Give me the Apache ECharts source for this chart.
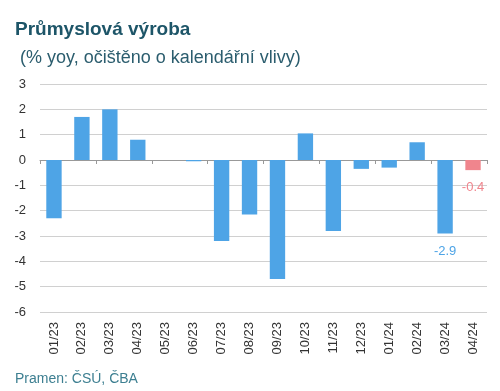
<!DOCTYPE html>
<html>
<head>
<meta charset="utf-8">
<script src="https://cdn.jsdelivr.net/npm/echarts@6/dist/echarts.min.js"></script>
<style>
html,body{margin:0;padding:0;background:#fff;}
#c{width:500px;height:391px;}
</style>
</head>
<body>
<div id="c"></div>
<script>
var categories = ["01/23","02/23","03/23","04/23","05/23","06/23","07/23","08/23","09/23","10/23","11/23","12/23","01/24","02/24","03/24","04/24"];
var values = [-2.3, 1.7, 2.0, 0.8, 0.0, -0.05, -3.2, -2.15, -4.7, 1.05, -2.8, -0.35, -0.3, 0.7, -2.9, -0.4];
var labelledIndex = [14, 15];
var yTicks = [-6, -5, -4, -3, -2, -1, 0, 1, 2, 3];

var blue = '#4ea4e6';
var red = '#f0858d';
var font = 'Liberation Sans, Arial, sans-serif';

var data = values.map(function (v, i) {
  var last = i === values.length - 1;
  var col = last ? red : blue;
  var item = { value: v, itemStyle: { color: col } };
  if (labelledIndex.indexOf(i) >= 0) {
    item.label = {
      show: true, position: 'bottom', distance: 11,
      color: col, fontSize: 13, fontFamily: font,
      formatter: function (p) { return p.value.toFixed(1); }
    };
  }
  return item;
});

var chart = echarts.init(document.getElementById('c'), null, { renderer: 'canvas' });
chart.setOption({
  animation: false,
  backgroundColor: '#ffffff',
  title: [
    { text: 'Průmyslová výroba', left: 10, top: 15,
      textStyle: { color: '#1d5568', fontSize: 19, fontWeight: 'bold', fontFamily: font } },
    { text: ' (% yoy, očištěno o kalendářní vlivy)', left: 10, top: 44,
      textStyle: { color: '#2b5d6e', fontSize: 18, fontWeight: 'normal', fontFamily: font } },
    { text: 'Pramen: ČSÚ, ČBA', left: 10, top: 367,
      textStyle: { color: '#3d7f91', fontSize: 14, fontWeight: 'normal', fontFamily: font } }
  ],
  grid: { left: 40, right: 13, top: 84, bottom: 79, containLabel: false },
  xAxis: [
    {
      type: 'category', data: categories, position: 'bottom',
      axisLine: { show: false, onZero: false }, axisTick: { show: false },
      axisLabel: { rotate: 90, color: '#333', fontSize: 13, margin: 10, fontFamily: font }
    },
    {
      type: 'category', data: categories, position: 'bottom',
      axisLine: { show: true, onZero: true, lineStyle: { color: '#999', width: 1 } },
      axisTick: { show: true, length: 4, lineStyle: { color: '#999' } },
      axisLabel: { show: false }
    }
  ],
  yAxis: {
    type: 'value', min: yTicks[0], max: yTicks[yTicks.length - 1], interval: 1,
    axisLine: { show: false }, axisTick: { show: false },
    axisLabel: { color: '#333', fontSize: 13, margin: 14, fontFamily: font },
    splitLine: { lineStyle: { color: '#d0d0d0', width: 1 } }
  },
  series: [{
    type: 'bar', data: data, barWidth: '55%', xAxisIndex: 0
  }]
});
</script>
</body>
</html>
